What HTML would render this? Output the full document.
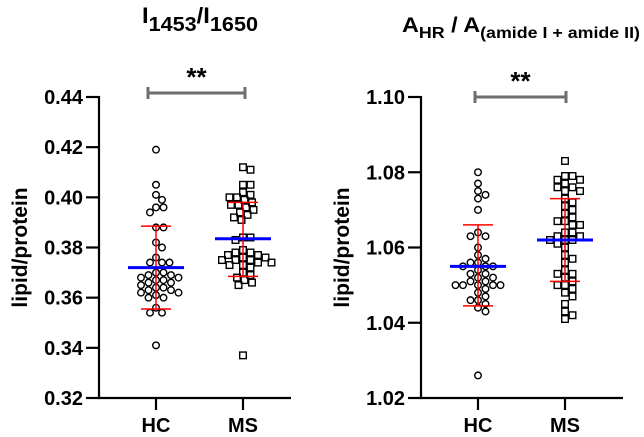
<!DOCTYPE html>
<html><head><meta charset="utf-8"><style>
html,body{margin:0;padding:0;background:#fff}
svg{display:block;font-family:"Liberation Sans",Arial,sans-serif}
</style></head><body>
<svg id="c" width="644" height="437" viewBox="0 0 644 437"></svg>
<script>
const categories = ["HC","MS"];
const leftTicks = [0.32,0.34,0.36,0.38,0.40,0.42,0.44];
const rightTicks = [1.02,1.04,1.06,1.08,1.10];
const leftHC = [0.419,0.405,0.401,0.399,0.396,0.396,0.394,0.388,0.388,0.382,0.380,0.376,0.374,0.374,0.374,0.370,0.370,0.369,0.369,0.368,0.368,0.367,0.367,0.366,0.366,0.365,0.364,0.364,0.363,0.363,0.362,0.362,0.361,0.360,0.360,0.356,0.354,0.354,0.341];
const leftMS = [0.412,0.411,0.405,0.405,0.402,0.401,0.400,0.400,0.399,0.398,0.397,0.397,0.396,0.395,0.394,0.393,0.392,0.391,0.384,0.384,0.383,0.379,0.378,0.378,0.377,0.377,0.376,0.376,0.375,0.375,0.375,0.374,0.374,0.373,0.373,0.372,0.370,0.369,0.368,0.367,0.366,0.365,0.337];
const rightHC = [1.080,1.077,1.075,1.074,1.073,1.070,1.064,1.063,1.063,1.060,1.058,1.057,1.056,1.056,1.055,1.055,1.055,1.054,1.053,1.053,1.052,1.052,1.051,1.051,1.050,1.050,1.050,1.050,1.050,1.049,1.048,1.047,1.046,1.046,1.045,1.044,1.043,1.026];
const rightMS = [1.083,1.079,1.079,1.078,1.078,1.077,1.076,1.076,1.075,1.075,1.073,1.072,1.071,1.070,1.069,1.068,1.067,1.067,1.066,1.066,1.064,1.064,1.063,1.063,1.062,1.062,1.062,1.061,1.060,1.058,1.057,1.056,1.054,1.053,1.053,1.052,1.051,1.050,1.050,1.049,1.048,1.047,1.045,1.043,1.042,1.041];
const leftMean = [0.372,0.3835];
const leftSdLow = [0.3555,0.3685];
const leftSdHigh = [0.3885,0.398];
const rightMean = [1.055,1.062];
const rightSdLow = [1.0445,1.051];
const rightSdHigh = [1.066,1.073];

const NS="http://www.w3.org/2000/svg";
const svg=document.getElementById('c');
function mk(tag,attrs,parent){const e=document.createElementNS(NS,tag);for(const k in attrs)e.setAttribute(k,attrs[k]);(parent||svg).appendChild(e);return e;}

function panel(o){
  const g=mk('g',{});
  
  
  const y=v=>o.y1-(v-o.min)/(o.max-o.min)*(o.y1-o.y0);
  const xc=i=>o.x0+o.cx[i];
  const ya=mk('line',{x1:o.x0,y1:o.y0-1,x2:o.x0,y2:o.y1,stroke:'#000','stroke-width':2.2},g);
  
  const xa=mk('line',{x1:o.x0-1,y1:o.y1,x2:o.x0+o.w,y2:o.y1,stroke:'#000','stroke-width':2.2},g);
  
  o.ticks.forEach(t=>{
    const ty=y(t);
    const tl=mk('line',{x1:o.x0-13,y1:ty,x2:o.x0,y2:ty,stroke:'#000','stroke-width':2.2},g);
    
    const tx=mk('text',{x:o.x0-16,y:ty+7,'text-anchor':'end','font-size':20,'font-weight':'bold'},g);
    tx.textContent=t.toFixed(2);
    
  });
  categories.forEach((c,i)=>{
    const tl=mk('line',{x1:xc(i),y1:o.y1,x2:xc(i),y2:o.y1+12,stroke:'#000','stroke-width':2.2},g);
    
    const tx=mk('text',{x:xc(i),y:432,'text-anchor':'middle','font-size':20,'font-weight':'bold'},g);
    tx.textContent=c;
    
  });
  const yl=mk('text',{x:0,y:0,transform:`translate(${o.x0-72},${(o.y0+o.y1)/2}) rotate(-90)`,'text-anchor':'middle','font-size':21,'font-weight':'bold'},g);
  yl.textContent='lipid/protein';
  
  const D=7.5;
  o.series.forEach((vals,i)=>{
    const placed=[];
    const sorted=vals.slice().sort((a,b)=>b-a);
    sorted.forEach(v=>{
      const py=y(v);let best=0;
      for(let k=0;k<40;k++){
        const off=(k%2?1:-1)*Math.ceil(k/2)*1.5;
        if(placed.every(p=>Math.hypot(p[0]-off,p[1]-py)>=D)){best=off;break;}
      }
      placed.push([best,py]);
      let m;
      if(i===0){m=mk('circle',{cx:xc(i)+best,cy:py,r:3.3,fill:'none',stroke:'#000','stroke-width':1.4},g);}
      else{m=mk('rect',{x:xc(i)+best-3.3,y:py-3.3,width:6.6,height:6.6,fill:'none',stroke:'#000','stroke-width':1.4},g);}
      
      
    });
    const sx=xc(i);
    const e1=mk('line',{x1:sx,y1:y(o.lo[i]),x2:sx,y2:y(o.hi[i]),stroke:'#f00','stroke-width':1.5},g);
    
    [o.lo[i],o.hi[i]].forEach(v=>{
      const c=mk('line',{x1:sx-15,y1:y(v),x2:sx+15,y2:y(v),stroke:'#f00','stroke-width':1.5},g);
      
    });
    const mn=mk('line',{x1:sx-28,y1:y(o.mean[i]),x2:sx+28,y2:y(o.mean[i]),stroke:'#00f','stroke-width':3},g);
    
  });
  const sb=mk('path',{d:`M${o.bx0},${o.by+6} V${o.by} H${o.bx1} V${o.by+6} M${o.bx0},${o.by} V${o.by-6} M${o.bx1},${o.by} V${o.by-6}`,fill:'none',stroke:'#6e6e6e','stroke-width':3},g);
  
  const st=mk('text',{x:(o.bx0+o.bx1)/2,y:o.by-7,'text-anchor':'middle','font-size':26,'font-weight':'bold'},g);
  st.textContent='**';
  
}
panel({name:'left-panel',x0:99,y0:97,y1:398,w:192,min:0.32,max:0.44,ticks:leftTicks,cx:[57,144],series:[leftHC,leftMS],mean:leftMean,lo:leftSdLow,hi:leftSdHigh,bx0:148,bx1:245,by:93});
panel({name:'right-panel',x0:421,y0:97,y1:398,w:202,min:1.02,max:1.10,ticks:rightTicks,cx:[57,144],series:[rightHC,rightMS],mean:rightMean,lo:rightSdLow,hi:rightSdHigh,bx0:475,bx1:566,by:97});

const t1=mk('text',{x:142,y:23,'font-size':22,'font-weight':'bold',textLength:116,lengthAdjust:'spacingAndGlyphs'});
t1.innerHTML='I<tspan font-size="20" dy="8">1453</tspan><tspan font-size="22" dy="-8">/I</tspan><tspan font-size="20" dy="8">1650</tspan>';

const t2=mk('text',{x:402,y:32,'font-size':21,'font-weight':'bold',textLength:238,lengthAdjust:'spacingAndGlyphs'});
t2.innerHTML='A<tspan font-size="16" dy="6">HR</tspan><tspan font-size="21" dy="-6"> / A</tspan><tspan font-size="16" dy="6">(amide I + amide II)</tspan>';

</script>
</body></html>
